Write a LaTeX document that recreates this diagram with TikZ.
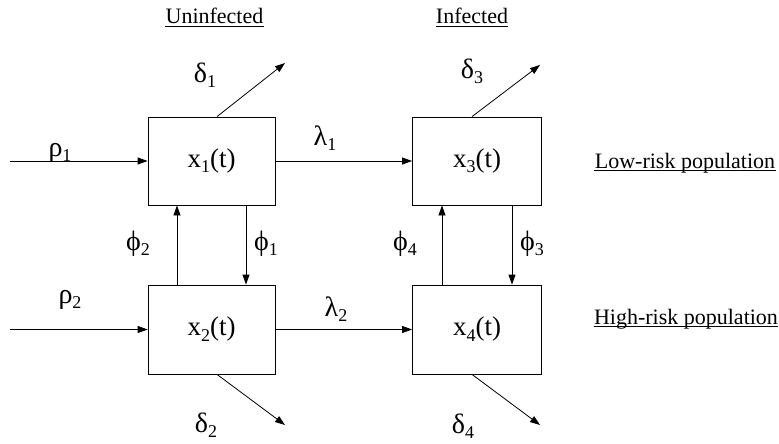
\documentclass[tikz,border=0pt]{standalone}
\usepackage{fontspec}
\setmainfont{Liberation Serif}
\usetikzlibrary{arrows.meta}
\newcommand\subs[1]{\raisebox{-0.2em}{\fontsize{18}{18}\selectfont #1}}
\newcommand\grk{\fontsize{28}{30}\selectfont}
\begin{document}
\begin{tikzpicture}[x=1pt,y=-1pt,
  line width=0.8pt,
  box/.style={draw, minimum width=127pt, minimum height=88pt, inner sep=0pt, font=\fontsize{27}{29}\selectfont},
  arr/.style={-{Triangle[length=10pt,width=7pt]}},
  rate/.style={anchor=base, inner sep=0pt, font=\grk},
  head/.style={anchor=base, inner sep=0pt, font=\fontsize{22}{24}\selectfont}]
\useasboundingbox (0,0) rectangle (779,444);
% boxes
\node[box] (x1) at (211.5,161) {x\subs{1}(t)};
\node[box, minimum width=129pt] (x3) at (477,161) {x\subs{3}(t)};
\node[box, minimum height=89pt] (x2) at (211.5,329.5) {x\subs{2}(t)};
\node[box, minimum width=129pt, minimum height=89pt] (x4) at (477,329.5) {x\subs{4}(t)};
% free ends
\coordinate (r1) at (10,161);
\coordinate (r2) at (10,329.5);
\coordinate (d1) at (285,63);
\coordinate (d3) at (540,65);
\coordinate (d2) at (285,425);
\coordinate (d4) at (540,425);
% connectors
\draw[arr] (r1) -- (x1.west);
\draw[arr] (r2) -- (x2.west);
\draw[arr] (x1.east) -- (x3.west);
\draw[arr] (x2.east) -- (x4.west);
\draw[arr] ([xshift=5.5pt]x1.north) -- (d1);
\draw[arr] ([xshift=-5pt]x3.north) -- (d3);
\draw[arr] ([xshift=5.5pt]x2.south) -- (d2);
\draw[arr] ([xshift=-5pt]x4.south) -- (d4);
\draw[arr] ([xshift=-34.5pt]x2.north) -- ([xshift=-34.5pt]x1.south);
\draw[arr] ([xshift=34.5pt]x1.south) -- ([xshift=34.5pt]x2.north);
\draw[arr] ([xshift=-35pt]x4.north) -- ([xshift=-35pt]x3.south);
\draw[arr] ([xshift=35pt]x3.south) -- ([xshift=35pt]x4.north);
% rate labels
\node[rate] (lr1) at (60,156) {ρ\subs{1}};
\node[rate] (lr2) at (70,303) {ρ\subs{2}};
\node[rate] (ll1) at (325,145) {λ\subs{1}};
\node[rate] (ll2) at (336,316) {λ\subs{2}};
\node[rate] (ld1) at (205,82) {δ\subs{1}};
\node[rate] (ld3) at (472,78) {δ\subs{3}};
\node[rate] (ld2) at (206,432) {δ\subs{2}};
\node[rate] (ld4) at (463,433) {δ\subs{4}};
\node[rate] (lp2) at (138,250) {ϕ\subs{2}};
\node[rate] (lp1) at (266,250) {ϕ\subs{1}};
\node[rate] (lp4) at (405,250) {ϕ\subs{4}};
\node[rate] (lp3) at (532,250) {ϕ\subs{3}};
% headings
\node[head] (hu) at (214.5,24) {Uninfected};
\node[head] (hi) at (472,24) {Infected};
\node[head] (hl) at (685,168) {Low-risk population};
\node[head] (hh) at (686,324) {High-risk population};
\foreach \n in {hu,hi,hl,hh}
  \draw[line width=0.7pt] ([yshift=-2pt]\n.base west) -- ([yshift=-2pt]\n.base east);
\end{tikzpicture}
\end{document}
